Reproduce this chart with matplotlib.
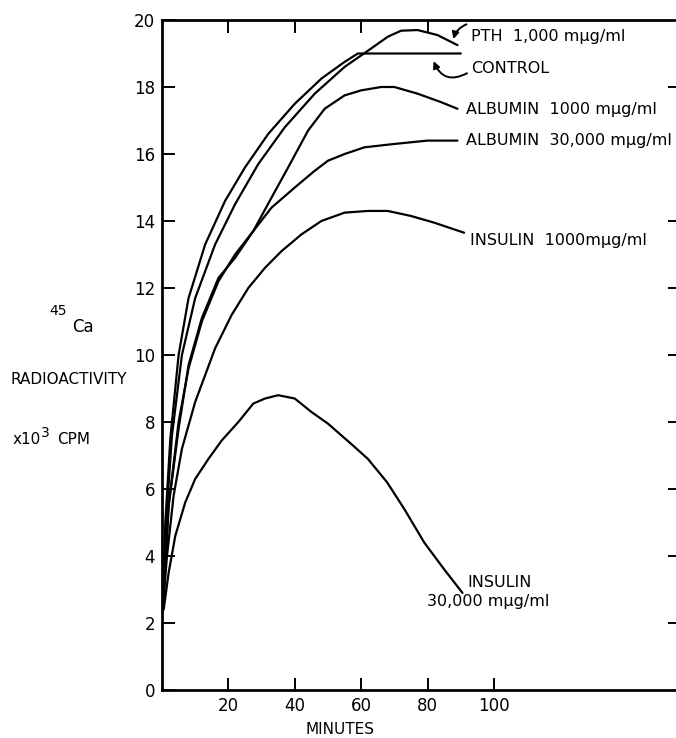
import numpy as np
import matplotlib
matplotlib.use("Agg")
import matplotlib.pyplot as plt

# curves (minutes, x10^3 cpm)
control_x = [0.3, 1.0, 2.5, 5, 8, 13, 19, 25, 32, 40, 48, 55, 59, 90]
control_y = [2.8, 5.0, 7.5, 10.0, 11.7, 13.3, 14.6, 15.6, 16.6, 17.5, 18.25, 18.75, 19.0, 19.0]

pth_x = [0.3, 1.2, 3, 6, 10, 16, 22, 29, 37, 46, 55, 63, 68, 72, 77, 83, 89]
pth_y = [2.8, 5.0, 7.6, 10.0, 11.7, 13.3, 14.5, 15.7, 16.8, 17.8, 18.6, 19.15, 19.5, 19.68, 19.7, 19.55, 19.25]

alb1000_x = [0.5, 2, 5, 8, 12, 17, 22, 27.5, 33, 38, 44, 49, 55, 60, 66, 70, 77, 84, 89]
alb1000_y = [2.8, 5.5, 7.8, 9.7, 11.1, 12.3, 12.9, 13.7, 14.7, 15.6, 16.7, 17.35, 17.75, 17.9, 18.0, 18.0, 17.8, 17.55, 17.35]

alb30000_x = [0.5, 2, 5, 8, 12, 17, 22, 27.5, 33, 40, 46, 50, 55, 61, 70, 80, 89]
alb30000_y = [2.8, 5.5, 8.0, 9.6, 11.0, 12.2, 13.0, 13.7, 14.4, 15.0, 15.5, 15.8, 16.0, 16.2, 16.3, 16.4, 16.4]

ins1000_x = [0.3, 1.5, 3.5, 6, 10, 16, 21, 26, 31, 36, 42, 48, 55, 62, 68, 75, 82, 91]
ins1000_y = [2.5, 4.0, 5.8, 7.2, 8.6, 10.2, 11.2, 12.0, 12.6, 13.1, 13.6, 14.0, 14.25, 14.3, 14.3, 14.15, 13.95, 13.65]

ins30000_x = [0.5, 2, 4, 7, 10, 14, 18, 23, 27.5, 31, 35, 40, 45, 50, 57.5, 62, 67.8, 73, 79, 85, 90.5]
ins30000_y = [2.4, 3.5, 4.6, 5.6, 6.3, 6.9, 7.45, 8.0, 8.55, 8.7, 8.8, 8.7, 8.3, 7.95, 7.3, 6.9, 6.2, 5.4, 4.4, 3.6, 2.9]

xticks = [20, 40, 60, 80, 100]
yticks = [0, 2, 4, 6, 8, 10, 12, 14, 16, 18, 20]

W, H = 676, 738
fig = plt.figure(figsize=(W / 100, H / 100), dpi=100)
ax = fig.add_axes([162 / W, 48 / H, 1 - 162 / W, 670 / H])

lw = 1.6
for xs, ys in [(control_x, control_y), (pth_x, pth_y), (alb1000_x, alb1000_y),
               (alb30000_x, alb30000_y), (ins1000_x, ins1000_y), (ins30000_x, ins30000_y)]:
    ax.plot(xs, ys, color="black", lw=lw, solid_capstyle="round", solid_joinstyle="round")

ax.set_xlim(0, (W - 162) / 3.32)
ax.set_ylim(0, 20)
ax.set_xticks(xticks)
ax.set_yticks(yticks)
ax.tick_params(direction="in", length=9, width=1.4, labelsize=12, pad=5, top=False, right=False)
ax.spines["right"].set_visible(False)
for s in ["left", "bottom", "top"]:
    ax.spines[s].set_linewidth(2.0)

# top ticks only at 20..80, right ticks short dashes
top = ax.secondary_xaxis("top")
top.set_xticks([20, 40, 60, 80])
top.set_xticklabels([])
top.tick_params(direction="in", length=9, width=1.4)
top.spines["top"].set_visible(False)

right = ax.secondary_yaxis("right")
right.set_yticks([2, 4, 6, 8, 10, 12, 14, 18])
right.set_yticklabels([])
right.tick_params(direction="in", length=6, width=1.4)
right.spines["right"].set_visible(False)

fs = 11.5
ax.text(93.1, 19.52, "PTH  1,000 mμg/ml", fontsize=fs, va="center")
ax.text(93.1, 18.54, "CONTROL", fontsize=fs, va="center")
ax.text(91.6, 17.34, "ALBUMIN  1000 mμg/ml", fontsize=fs, va="center")
ax.text(91.6, 16.39, "ALBUMIN  30,000 mμg/ml", fontsize=fs, va="center")
ax.text(92.8, 13.43, "INSULIN  1000mμg/ml", fontsize=fs, va="center")
ax.text(91.9, 3.22, "INSULIN", fontsize=fs, va="center")
ax.text(79.8, 2.63, "30,000 mμg/ml", fontsize=fs, va="center")

ax.annotate("", xy=(87.6, 19.35), xytext=(92.5, 19.9),
            arrowprops=dict(arrowstyle="-|>", color="black", lw=1.4,
                            connectionstyle="arc3,rad=0.3", mutation_scale=10))
ax.annotate("", xy=(81.5, 18.85), xytext=(92.6, 18.45),
            arrowprops=dict(arrowstyle="-|>", color="black", lw=1.4,
                            connectionstyle="arc3,rad=-0.6", mutation_scale=10))

# y label block
fig.text(49 / W, 1 - 311 / H, "45", fontsize=10, va="center")
fig.text(72 / W, 1 - 327 / H, "Ca", fontsize=12, va="center")
fig.text(11 / W, 1 - 380 / H, "RADIOACTIVITY", fontsize=11, va="center")
fig.text(13 / W, 1 - 440 / H, "x10", fontsize=11, va="center")
fig.text(41 / W, 1 - 433 / H, "3", fontsize=10, va="center")
fig.text(57 / W, 1 - 440 / H, "CPM", fontsize=11, va="center")
fig.text(340 / W, 1 - 730 / H, "MINUTES", fontsize=11, ha="center", va="center")

fig.savefig("out.png", dpi=100, facecolor="white")
